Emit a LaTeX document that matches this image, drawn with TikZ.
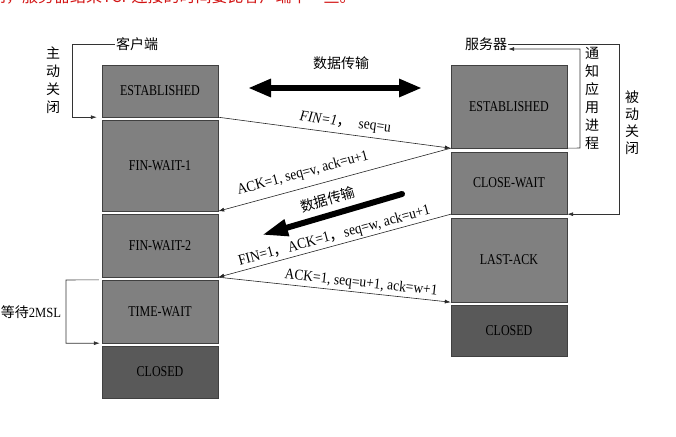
\documentclass[tikz,border=0pt]{standalone}
\usepackage{fontspec}
\usepackage{tikz}
\usetikzlibrary{arrows.meta}
\newfontfamily\cjk{Noto Sans CJK SC}
\newfontfamily\statefont[FakeStretch=0.8]{Liberation Serif}
\newfontfamily\msgfont[FakeStretch=0.9]{Liberation Serif}
\definecolor{boxgray}{RGB}{128,128,128}
\definecolor{closedgray}{RGB}{89,89,89}
\definecolor{notered}{RGB}{210,20,20}
\tikzset{
  state/.style={draw=black!75, fill=boxgray, minimum width=116pt, inner sep=0pt,
    font=\statefont\fontsize{15pt}{16pt}\selectfont},
  closed/.style={state, fill=closedgray},
  cn/.style={inner sep=1pt, font=\cjk\fontsize{14pt}{18pt}\selectfont},
  lbl/.style={inner sep=1pt, font=\msgfont\fontsize{15pt}{16pt}\selectfont},
  msg/.style={-{Latex[length=6pt,width=4pt]}, draw=black!85, line width=0.6pt},
  side/.style={-{Latex[length=6pt,width=4pt]}, draw=black!80, line width=0.6pt},
  bigarrow/.style={line width=6pt}
}

\begin{document}
\begin{tikzpicture}[x=1pt,y=-1pt]
      \useasboundingbox (0,0) rectangle (676,436);

      \node[anchor=base west, inner sep=0pt, text=notered, font=\cjk\fontsize{16pt}{16pt}\selectfont] (note) at (-10,2.5) {到，服务器结束TCP连接的时间要比客户端早一些。};

      \node[state, minimum height=52pt] (cest) at (160,91) {ESTABLISHED};
      \node[state, minimum height=91pt] (cfw1) at (160,165.5) {FIN-WAIT-1};
      \node[state, minimum height=63pt] (cfw2) at (160,245.5) {FIN-WAIT-2};
      \node[state, minimum height=63pt] (ctw) at (160,311.5) {TIME-WAIT};
      \node[closed, minimum height=52pt] (ccl) at (160,372) {CLOSED};

      \node[state, minimum height=83pt] (sest) at (509,106.5) {ESTABLISHED};
      \node[state, minimum height=62pt] (scw) at (509,183) {CLOSE-WAIT};
      \node[state, minimum height=84pt] (sla) at (509,260) {LAST-ACK};
      \node[closed, minimum height=51pt] (scl) at (509,330.5) {CLOSED};

      \node[cn] (kh) at (137,44) {客户端};
      \node[cn] (fwq) at (486,44) {服务器};
      \node[cn, align=center] (zd) at (53,80) {主\\动\\关\\闭};
      \node[cn, align=center] (tz) at (592,98.5) {通\\知\\应\\用\\进\\程};
      \node[cn, align=center, font=\cjk\fontsize{14pt}{17pt}\selectfont] (bd) at (632,122.5) {被\\动\\关\\闭};
      \node[cn] (dd) at (31,312) {等待{\msgfont 2MSL}};
      \node[cn] (sj) at (341,63) {数据传输};

      \draw[side, shorten >=5pt] (kh.west) -- (72,44) |- (cest.south west);
      \draw[side, shorten <=3pt, shorten >=2pt] (ctw.north west) -- (66,280) |- (ctw.south west);
      \draw[side] (sest.south east) -- (580,148) |- ([yshift=-5pt]fwq.east);
      \draw[side] (fwq.east) -- (619,44) |- (scw.south east);

      \coordinate (dl) at (248,88);
      \coordinate (dr) at (422,88);
      \draw[bigarrow, {Triangle[length=23pt,width=17pt]}-{Triangle[length=23pt,width=17pt]}] (dl) -- (dr);

      \coordinate (dt) at (402,194);
      \coordinate (dh) at (262,235);
      \draw[bigarrow, line cap=round, -{Triangle[length=26pt,width=16pt]}] (dt) -- node[cn, sloped, above=5pt, pos=0.5] {数据传输} (dh);

      \draw[msg] (cest.south east) -- node[lbl, sloped, above=3pt, pos=0.54] {\textit{FIN=1}{\cjk ，}\ \ seq=u} (sest.south west);
      \draw[msg] (sest.south west) -- node[lbl, sloped, above=6pt, pos=0.62] {ACK=1, seq=v, ack=u+1} (cfw1.south east);
      \draw[msg] (scw.south west) -- node[lbl, sloped, above=1pt, pos=0.49] {FIN=1{\cjk ，}ACK=1{\cjk ，}seq=w, ack=u+1} (cfw2.south east);
      \draw[msg] (cfw2.south east) -- node[lbl, sloped, above=1pt, pos=0.61] {ACK=1, seq=u+1, ack=w+1} (sla.south west);
\end{tikzpicture}
\end{document}
